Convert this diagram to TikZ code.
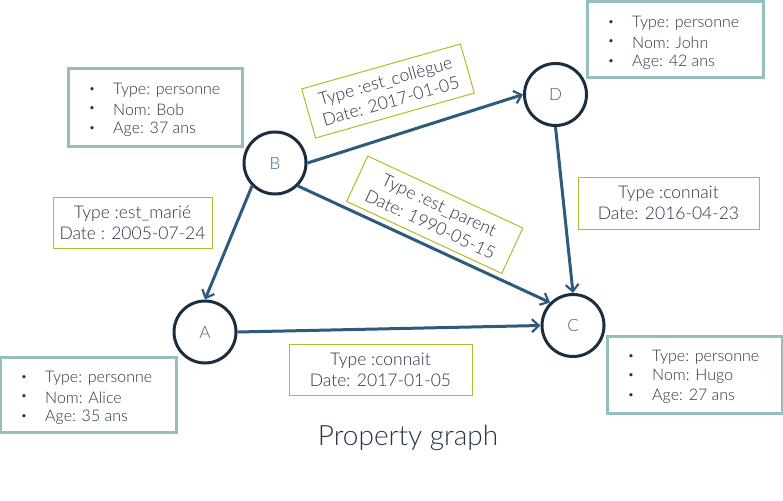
\documentclass[tikz,border=0pt]{standalone}
\usepackage{fontspec}
\setmainfont{Lato Light}
\usetikzlibrary{arrows.meta}
\definecolor{edgec}{HTML}{2E5B7B}
\definecolor{circc}{HTML}{1B2E40}
\definecolor{lettc}{HTML}{3D6480}
\definecolor{txtc}{HTML}{283444}
\definecolor{tealc}{HTML}{93BFBF}
\definecolor{olivec}{HTML}{B2BC2A}
\tikzset{
  vertex/.style={circle,draw=circc,line width=3pt,minimum size=62pt,inner sep=0pt,
    text=lettc,font=\fontsize{17}{20}\selectfont},
  rel/.style={-{Straight Barb[length=7pt,width=13pt,line width=2.2pt]},draw=edgec,line width=3pt},
  infobox/.style={draw=tealc,line width=3pt,fill=none,inner sep=0pt},
  infoline/.style={anchor=west,inner sep=0pt,text=txtc,font=\fontsize{16}{19}\selectfont},
  bul/.style={inner sep=0pt,text=txtc,font=\fontsize{11}{13}\selectfont},
  lab/.style={draw=olivec,line width=1pt,align=center,inner sep=0pt,text=txtc,
    font=\fontsize{17.5}{21}\selectfont},
}
\newcommand{\personbox}[8]{%
  \node[infobox,minimum width=#4pt-#2pt,minimum height=#5pt-#3pt] (#1) at ({(#2+#4)/2},{(#3+#5)/2}) {};
  \node[bul] (#1b1) at ({#2+24},{#3+21}) {•};
  \node[bul] (#1b2) at ({#2+24},{#3+40.5}) {•};
  \node[bul] (#1b3) at ({#2+24},{#3+60}) {•};
  \node[infoline] (#1t1) at ({#2+45},{#3+21}) {#6};
  \node[infoline] (#1t2) at ({#2+45},{#3+40.5}) {#7};
  \node[infoline] (#1t3) at ({#2+45},{#3+60}) {#8};
}
\begin{document}
\begin{tikzpicture}[x=1pt,y=-1pt]
\useasboundingbox (0,0) rectangle (783,500);
% person boxes
\personbox{bob}{68}{69}{242}{146}{Type: personne}{Nom: Bob}{Age: 37 ans}
\personbox{john}{587}{2}{763}{78}{Type: personne}{Nom: John}{Age: 42 ans}
\personbox{alice}{0}{357}{176}{432}{Type: personne}{Nom: Alice}{Age: 35 ans}
\personbox{hugo}{607}{336}{782}{413}{Type: personne}{Nom: Hugo}{Age: 27 ans}
% vertices
\node[vertex] (B) at (275,163) {B};
\node[vertex] (D) at (555.5,94.5) {D};
\node[vertex] (A) at (205,332) {A};
\node[vertex] (C) at (573,325.5) {C};
% edges
\draw[rel] (B.south west) -- (A.north);
\draw[rel] (B.east) -- (D.west);
\draw[rel] (B.south east) -- (C.north west);
\draw[rel] (D.south) -- (C.north);
\draw[rel] (A.east) -- (C.west);
% edge labels
\node[lab,minimum width=159pt,minimum height=51pt] (lmar) at (132.5,222.5) {Type :est\_marié\\Date : 2005-07-24};
\node[lab,minimum width=183pt,minimum height=51pt] (lcon1) at (380.5,369.5) {Type :connait\\Date: 2017-01-05};
\node[lab,minimum width=181pt,minimum height=52pt] (lcon2) at (668.5,203) {Type :connait\\Date: 2016-04-23};
\node[lab,minimum width=165pt,minimum height=51pt,rotate=15.8] (lcol) at (388,91) {Type :est\_collègue\\Date: 2017-01-05};
\node[lab,minimum width=171pt,minimum height=50pt,rotate=-24.9] (lpar) at (434.75,214.75) {Type :est\_parent\\Date: 1990-05-15};
% title
\node[text=txtc,font=\fontsize{28}{32}\selectfont,inner sep=0pt] (title) at (408,438) {Property graph};
\end{tikzpicture}
\end{document}
